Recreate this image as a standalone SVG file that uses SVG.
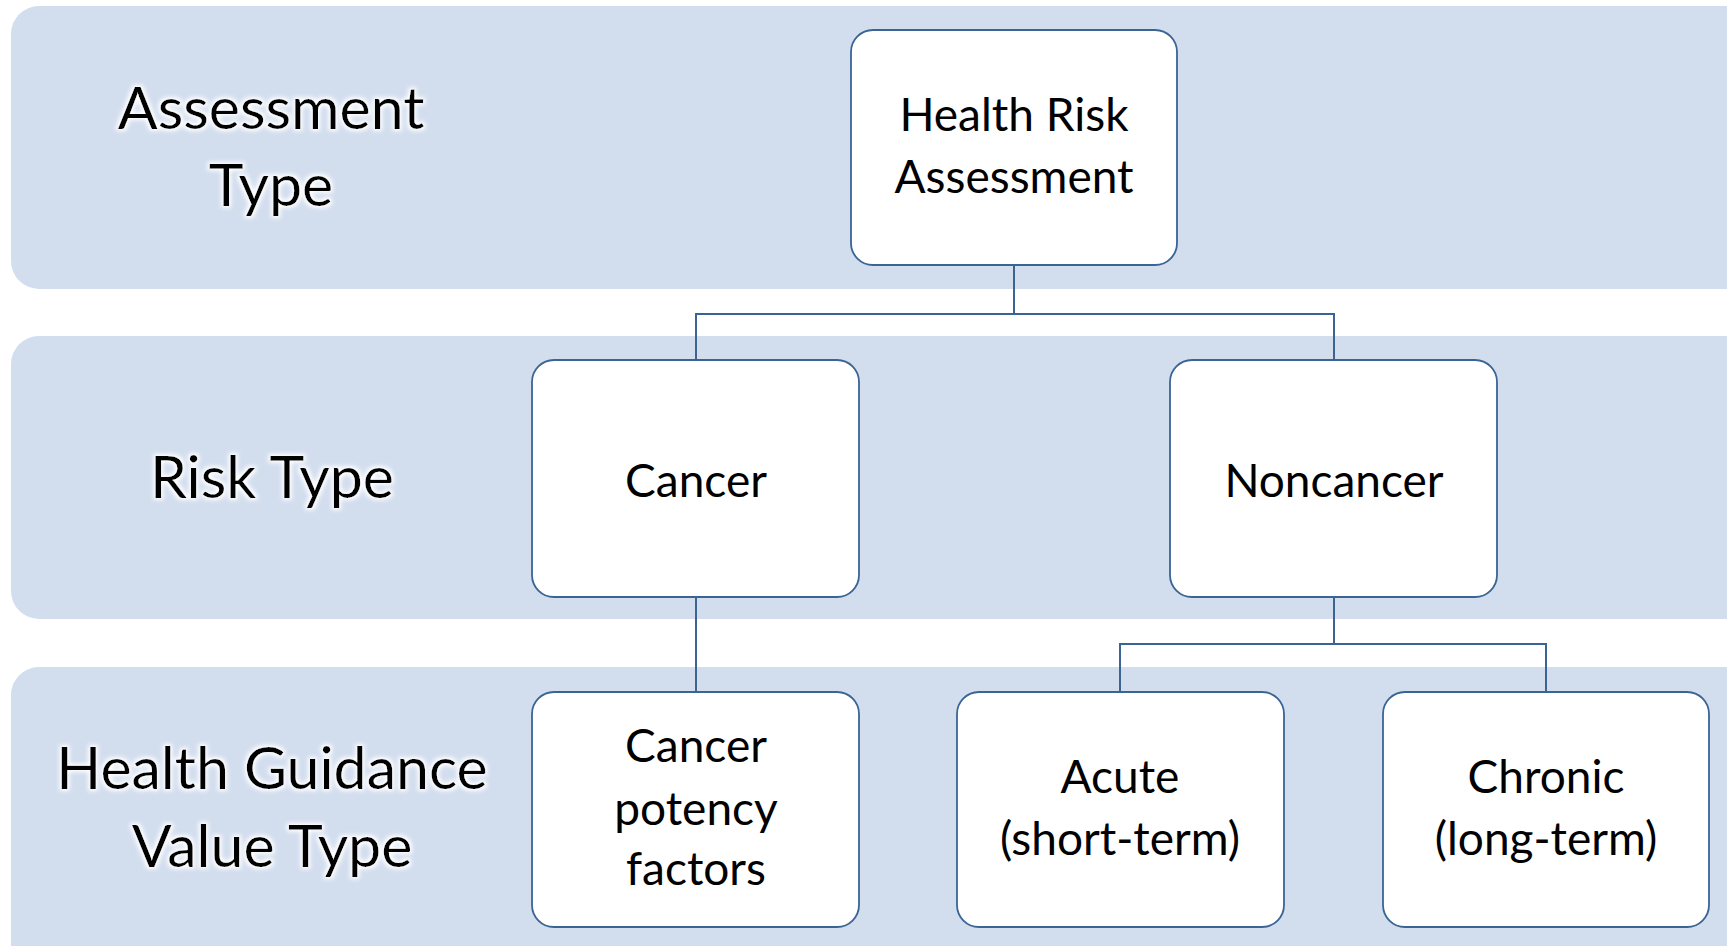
<svg xmlns="http://www.w3.org/2000/svg" width="1727" height="946" viewBox="0 0 1727 946">
<defs>
<filter id="glow" x="-10%" y="-20%" width="120%" height="140%">
<feMorphology in="SourceAlpha" operator="dilate" radius="2" result="d"/>
<feGaussianBlur in="d" stdDeviation="2" result="b"/>
<feFlood flood-color="#ffffff"/>
<feComposite in2="b" operator="in" result="g"/>
<feMerge><feMergeNode in="g"/><feMergeNode in="SourceGraphic"/></feMerge>
</filter>
</defs>
<style>
.band{fill:#D2DDEE;}
.box{fill:#ffffff;stroke:#3A6494;stroke-width:1.8;}
.lbl{font-family:Lato,"Liberation Sans",sans-serif;font-size:59px;fill:#000;text-anchor:middle;}
.txt{font-family:Lato,"Liberation Sans",sans-serif;font-size:46px;fill:#000;text-anchor:middle;}
.conn{fill:none;stroke:#3A6494;stroke-width:2;}
</style>
<rect width="1727" height="946" fill="#ffffff"/>
<g id="bands">
<rect class="band" x="11" y="6" width="1760" height="283" rx="28"/>
<rect class="band" x="11" y="336" width="1760" height="283" rx="28"/>
<rect class="band" x="11" y="667" width="1760" height="320" rx="28"/>
</g>
<g id="band-labels" filter="url(#glow)">
<text class="lbl" x="271" y="129">Assessment</text>
<text class="lbl" x="271" y="206">Type</text>
<text class="lbl" x="272" y="498">Risk Type</text>
<text class="lbl" x="272" y="789">Health Guidance</text>
<text class="lbl" x="272" y="867">Value Type</text>
</g>
<g id="connectors">
<path class="conn" d="M1014,265 V314 M696,360 V314 H1334 V360"/>
<path class="conn" d="M696,597 V692"/>
<path class="conn" d="M1334,597 V644 M1120,692 V644 H1546 V692"/>
</g>
<g id="node-hra">
<rect class="box" x="851" y="30" width="326" height="235" rx="22"/>
<text class="txt" x="1014" y="131">Health Risk</text>
<text class="txt" x="1014" y="193">Assessment</text>
</g>
<g id="node-cancer">
<rect class="box" x="532" y="360" width="327" height="237" rx="22"/>
<text class="txt" x="696" y="497">Cancer</text>
</g>
<g id="node-noncancer">
<rect class="box" x="1170" y="360" width="327" height="237" rx="22"/>
<text class="txt" x="1334" y="497">Noncancer</text>
</g>
<g id="node-cpf">
<rect class="box" x="532" y="692" width="327" height="235" rx="22"/>
<text class="txt" x="696" y="762">Cancer</text>
<text class="txt" x="696" y="825">potency</text>
<text class="txt" x="696" y="885">factors</text>
</g>
<g id="node-acute">
<rect class="box" x="957" y="692" width="327" height="235" rx="22"/>
<text class="txt" x="1120" y="793">Acute</text>
<text class="txt" x="1120" y="855">(short-term)</text>
</g>
<g id="node-chronic">
<rect class="box" x="1383" y="692" width="326" height="235" rx="22"/>
<text class="txt" x="1546" y="793">Chronic</text>
<text class="txt" x="1546" y="855">(long-term)</text>
</g>
</svg>
